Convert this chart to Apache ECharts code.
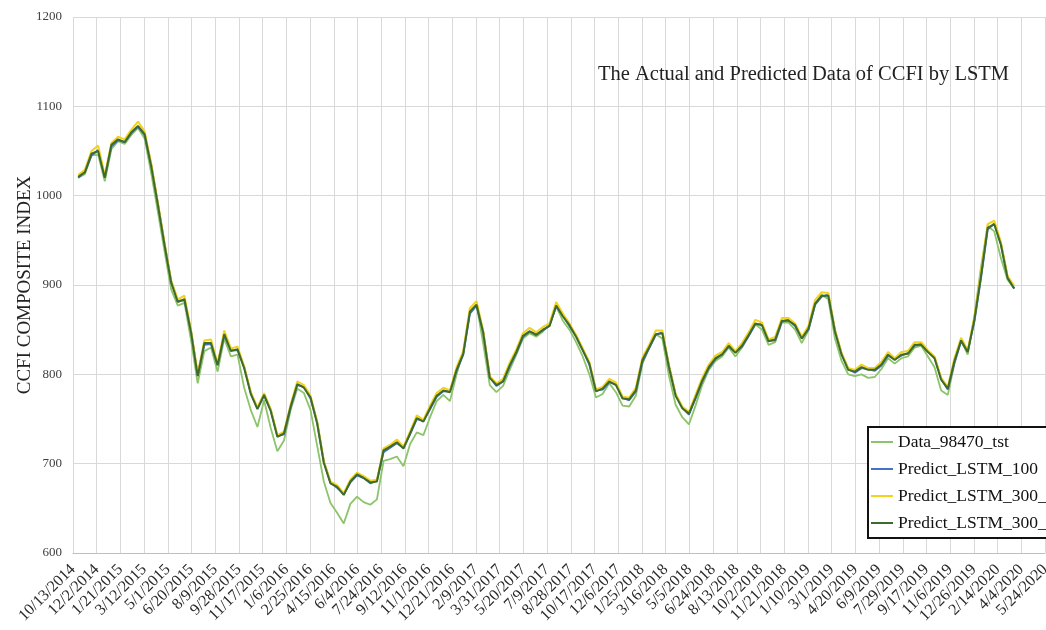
<!DOCTYPE html>
<html>
<head>
<meta charset="utf-8">
<script src="https://cdn.jsdelivr.net/npm/echarts@6/dist/echarts.min.js"></script>
<style>
  html, body { margin: 0; padding: 0; background: #ffffff; }
  #chart { width: 1046px; height: 630px; }
</style>
</head>
<body>
<div id="chart"></div>
<script>
// Date axis: starts 10/13/2014, one tick every 50 days up to 5/24/2020
const axisStartUTC = Date.UTC(2014, 9, 13);
const axisSpanDays = 2050;
const tickDays = 50;
const DAY_MS = 86400000;

// Observations: every second weekly CCFI release, first one on 10/24/2014
const firstObsUTC = Date.UTC(2014, 9, 24);
const obsStepDays = 14;

const seriesNames = ['Data_98470_tst', 'Predict_LSTM_100', 'Predict_LSTM_300_2', 'Predict_LSTM_300_1'];

const data98470 = [
  1020,1024,1045,1046,1016,1052,1061,1058,1068,1076,
  1064,1025,982,938,895,877,880,838,790,826,
  830,803,840,820,822,785,760,741,771,740,
  714,726,760,784,779,760,720,680,656,645,
  633,655,663,657,654,660,703,705,708,697,
  722,735,732,752,770,777,770,800,825,870,
  878,835,788,780,787,805,822,840,846,842,
  848,855,876,860,850,836,820,800,774,778,
  790,780,765,764,776,812,830,845,840,798,
  766,752,744,765,788,805,815,820,830,820,
  830,843,856,850,833,836,858,858,850,835,
  849,878,889,884,840,815,800,798,800,796,
  797,806,818,812,818,820,830,832,820,808,
  782,777,812,838,822,865,920,966,960,930,
  906,896
];

const lstm100 = [
  1020,1027,1045,1051,1021,1055,1062,1060,1070,1077,
  1068,1034,991,946,904,882,883,848,799,833,
  834,811,844,827,827,808,779,762,776,760,
  731,733,763,788,786,773,746,702,679,673,
  666,679,687,684,678,681,713,718,723,718,
  733,750,748,761,775,781,781,804,822,868,
  877,848,797,787,792,809,824,842,848,845,
  849,855,876,866,854,843,828,811,782,783,
  791,789,774,771,781,814,829,844,847,809,
  777,763,755,773,792,807,817,823,831,825,
  831,843,856,856,838,838,859,861,854,841,
  850,878,887,889,849,823,806,802,807,806,
  804,810,821,817,821,824,832,834,826,819,
  795,783,813,837,826,859,908,962,969,946,
  909,896
];

const lstm300b = [
  1023,1029,1050,1056,1023,1059,1066,1063,1074,1083,
  1072,1036,992,947,905,884,888,849,801,838,
  839,812,849,829,831,809,780,763,779,761,
  732,736,766,792,788,776,747,703,680,676,
  667,682,690,686,681,682,717,721,727,719,
  736,754,749,765,779,785,782,808,826,874,
  882,849,798,790,795,813,828,846,852,847,
  853,857,881,868,857,844,829,814,783,786,
  795,791,775,774,785,819,833,849,849,810,
  778,764,758,777,796,811,821,825,835,826,
  835,847,861,858,839,842,863,863,857,842,
  854,883,892,891,850,824,807,805,811,807,
  807,814,825,818,825,826,836,836,827,820,
  796,786,818,841,827,864,914,968,972,948,
  910,899
];

const lstm300a = [
  1021,1026,1047,1050,1020,1057,1063,1060,1071,1078,
  1069,1033,990,945,903,881,884,847,798,835,
  835,810,845,826,828,807,778,761,777,759,
  730,734,764,789,785,774,745,701,678,674,
  665,680,688,684,679,680,715,719,724,717,
  734,751,747,762,776,782,780,805,823,870,
  878,847,796,788,792,810,825,843,848,844,
  850,854,877,865,855,842,827,812,781,784,
  792,788,773,772,782,816,830,845,846,808,
  776,762,756,774,793,808,818,822,832,824,
  832,844,857,855,837,839,860,860,855,840,
  851,879,888,888,848,822,805,803,808,805,
  805,811,822,816,822,823,833,833,825,818,
  794,784,815,838,825,861,910,964,968,945,
  908,896
];

// Day offset of each observation from the axis start
const firstOffset = (firstObsUTC - axisStartUTC) / DAY_MS;
const dayOffsets = data98470.map((_, i) => firstOffset + i * obsStepDays);

function pairUp(values) {
  return values.map((v, i) => [dayOffsets[i], v]);
}

function dateLabel(offset) {
  const t = new Date(axisStartUTC + offset * DAY_MS);
  return (t.getUTCMonth() + 1) + '/' + t.getUTCDate() + '/' + t.getUTCFullYear();
}

const serif = "'Liberation Serif', 'Times New Roman', serif";
const gridColor = '#d9d9d9';

const chart = echarts.init(document.getElementById('chart'), null, { renderer: 'canvas' });

const lineColors = ['#8cc46a', '#4472c4', '#f2d21a', '#3e6a2a'];
const lineWidths = [1.8, 2, 2, 2];
const seriesValues = [data98470, lstm100, lstm300b, lstm300a];

chart.setOption({
  animation: false,
  backgroundColor: '#ffffff',
  title: {
    text: 'The Actual and Predicted Data of CCFI by LSTM',
    left: 593,
    top: 59,
    padding: 5,
    textStyle: { fontFamily: serif, fontSize: 20.5, fontWeight: 'normal', color: '#222222' }
  },
  legend: {
    data: seriesNames,
    orient: 'vertical',
    left: 868,
    top: 427,
    icon: 'rect',
    itemWidth: 22,
    itemHeight: 2,
    itemGap: 9,
    padding: [6, 60, 6, 3],
    borderColor: '#111111',
    borderWidth: 2,
    backgroundColor: '#ffffff',
    textStyle: { fontFamily: serif, fontSize: 17.5, color: '#111111' }
  },
  grid: { left: 73, right: 1, top: 17, bottom: 77, containLabel: false, outerBoundsMode: 'none' },
  xAxis: {
    type: 'value',
    min: 0,
    max: axisSpanDays,
    interval: tickDays,
    axisLine: { show: true, lineStyle: { color: '#bfbfbf', width: 1 } },
    axisTick: { show: false },
    splitLine: { show: true, lineStyle: { color: gridColor, width: 1 } },
    axisLabel: {
      rotate: 45,
      margin: 14,
      fontFamily: serif,
      fontSize: 16,
      color: '#2a2a2a',
      showMinLabel: true,
      showMaxLabel: true,
      hideOverlap: false,
      formatter: dateLabel
    }
  },
  yAxis: {
    type: 'value',
    min: 600,
    max: 1200,
    interval: 100,
    name: 'CCFI COMPOSITE INDEX',
    nameLocation: 'middle',
    nameGap: 38,
    nameMoveOverlap: false,
    nameTextStyle: { fontFamily: serif, fontSize: 19, color: '#222222' },
    axisLine: { show: false },
    axisTick: { show: false },
    splitLine: { show: true, lineStyle: { color: gridColor, width: 1 } },
    axisLabel: {
      margin: 11,
      fontFamily: serif,
      fontSize: 13,
      color: '#404040',
      formatter: v => String(v)
    }
  },
  series: seriesNames.map((name, k) => ({
    name: name,
    type: 'line',
    symbol: 'none',
    smooth: false,
    data: pairUp(seriesValues[k]),
    color: lineColors[k],
    lineStyle: { color: lineColors[k], width: lineWidths[k] },
    z: 2 + k
  }))
});
</script>
</body>
</html>
